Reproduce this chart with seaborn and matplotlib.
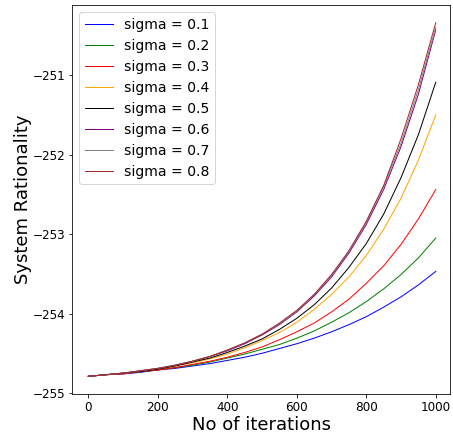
import pandas as pd
import seaborn as sns
import matplotlib
matplotlib.use("Agg")
import matplotlib.pyplot as plt

iterations = [0, 50, 100, 150, 200, 250, 300, 350, 400, 450, 500,
              550, 600, 650, 700, 750, 800, 850, 900, 950, 1000]

sigmas = [0.1, 0.2, 0.3, 0.4, 0.5, 0.6, 0.7, 0.8]
colors = ["blue", "green", "red", "orange", "black", "purple", "gray", "brown"]

# values
r_01 = [-254.79, -254.77, -254.76, -254.74, -254.71, -254.69, -254.66, -254.63, -254.59, -254.55, -254.50,
        -254.44, -254.38, -254.31, -254.23, -254.14, -254.04, -253.92, -253.79, -253.64, -253.47]
r_02 = [-254.79, -254.77, -254.75, -254.73, -254.71, -254.68, -254.65, -254.61, -254.56, -254.51, -254.45,
        -254.39, -254.31, -254.22, -254.11, -253.99, -253.85, -253.69, -253.51, -253.30, -253.05]
r_03 = [-254.79, -254.77, -254.76, -254.73, -254.71, -254.68, -254.64, -254.60, -254.55, -254.49, -254.42,
        -254.33, -254.23, -254.12, -253.98, -253.82, -253.62, -253.40, -253.13, -252.81, -252.44]
r_04 = [-254.79, -254.77, -254.75, -254.73, -254.70, -254.66, -254.62, -254.57, -254.51, -254.43, -254.34,
        -254.24, -254.11, -253.95, -253.76, -253.54, -253.27, -252.94, -252.55, -252.07, -251.50]
r_05 = [-254.79, -254.77, -254.75, -254.73, -254.70, -254.66, -254.61, -254.56, -254.49, -254.41, -254.32,
        -254.20, -254.06, -253.89, -253.68, -253.42, -253.12, -252.75, -252.29, -251.75, -251.09]
r_06 = [-254.79, -254.77, -254.75, -254.72, -254.69, -254.65, -254.60, -254.54, -254.47, -254.38, -254.27,
        -254.14, -253.98, -253.78, -253.54, -253.24, -252.88, -252.44, -251.90, -251.24, -250.43]
r_07 = [-254.79, -254.77, -254.75, -254.72, -254.69, -254.65, -254.60, -254.54, -254.46, -254.37, -254.26,
        -254.13, -253.97, -253.76, -253.52, -253.22, -252.85, -252.40, -251.86, -251.18, -250.40]
r_08 = [-254.79, -254.77, -254.75, -254.72, -254.69, -254.65, -254.60, -254.54, -254.46, -254.37, -254.26,
        -254.12, -253.96, -253.76, -253.51, -253.21, -252.84, -252.39, -251.80, -251.12, -250.34]

series = [r_01, r_02, r_03, r_04, r_05, r_06, r_07, r_08]


def build_frame():
    rows = []
    for s, vals in zip(sigmas, series):
        for it, v in zip(iterations, vals):
            rows.append({"iter": it, "rat": v, "label": f"sigma = {s}"})
    return pd.DataFrame(rows)


def main():
    df = build_frame()
    labels = [f"sigma = {s}" for s in sigmas]

    fig = plt.figure(figsize=(453 / 72, 436 / 72), dpi=72)
    ax = fig.add_axes([72 / 453, 1 - 394 / 436, 378 / 453, 389 / 436])

    sns.lineplot(data=df, x="iter", y="rat", hue="label", hue_order=labels,
                 palette=colors, linewidth=1, ax=ax, legend=False)

    ax.set_xlim(-47, 1041)
    ax.set_xlabel("No of iterations", fontsize=18, labelpad=2)
    ax.set_ylabel("System Rationality", fontsize=18, labelpad=0)
    ax.tick_params(labelsize=12)
    ax.legend(ax.get_lines(), labels, loc="upper left", fontsize=14)

    fig.savefig("out.png", dpi=72)


if __name__ == "__main__":
    main()
